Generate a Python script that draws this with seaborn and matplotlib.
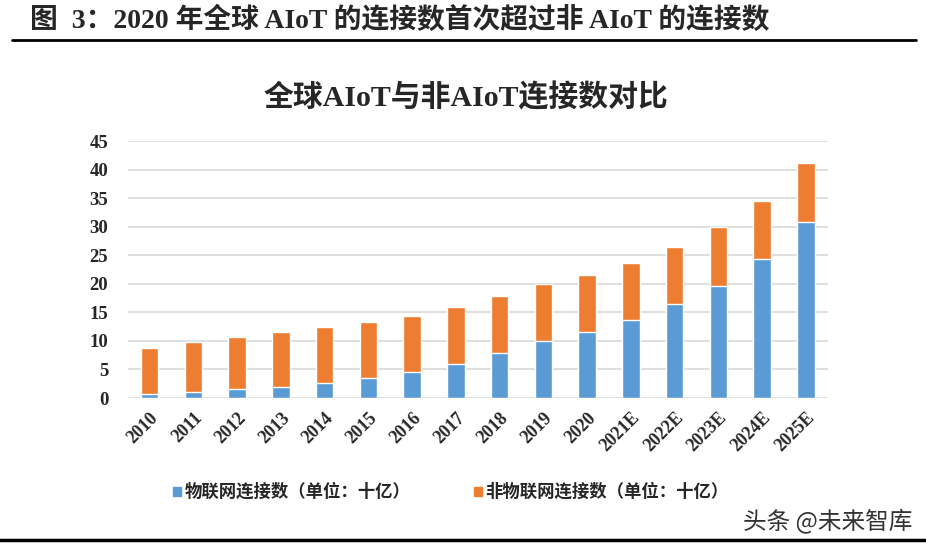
# 全球AIoT与非AIoT连接数对比 堆叠柱状图

import pandas as pd
import seaborn as sns
import matplotlib.pyplot as plt

years = ['2010', '2011', '2012', '2013', '2014', '2015', '2016', '2017',
         '2018', '2019', '2020', '2021E', '2022E', '2023E', '2024E', '2025E']
# 物联网连接数（十亿）
iot = [0.7, 1.0, 1.5, 2.0, 2.7, 3.5, 4.5, 6.0,
       7.9, 9.9, 11.6, 13.7, 16.4, 19.7, 24.4, 30.9]
# 连接数总计（十亿）
total = [8.7, 9.8, 10.7, 11.6, 12.5, 13.3, 14.3, 15.9,
         17.8, 20.0, 21.5, 23.7, 26.5, 30.0, 34.5, 41.2]
non_iot = [round(t - i, 1) for t, i in zip(total, iot)]

blue = '#5B9BD5'
orange = '#ED7D31'
serif = ['Liberation Serif', 'Noto Sans CJK SC']
cjk = ['Noto Sans CJK SC', 'DejaVu Sans']


def draw():
    sns.set_style('white')
    plt.rcParams['font.family'] = serif

    df = pd.DataFrame({'year': years, 'iot': iot, 'non_iot': non_iot})
    df['total'] = df['iot'] + df['non_iot']

    fig = plt.figure(figsize=(9.26, 5.49), dpi=100)
    ax = fig.add_axes([0.138, 0.275, 0.756, 0.468])

    # 先画总高度（橙色），再覆盖物联网部分（蓝色）
    sns.barplot(data=df, x='year', y='total', color=orange, width=0.4,
                saturation=1, ax=ax, zorder=3)
    sns.barplot(data=df, x='year', y='iot', color=blue, width=0.4,
                saturation=1, ax=ax, zorder=3)

    ax.set_ylim(0, 45)
    ax.set_xlim(-0.5, len(years) - 0.5)
    ax.set_yticks(range(0, 46, 5))
    ax.grid(axis='y', color='#d9d9d9', linewidth=1.2, zorder=0)
    ax.set_axisbelow(True)
    for s in ax.spines.values():
        s.set_visible(False)
    ax.set_xlabel('')
    ax.set_ylabel('')
    ax.tick_params(axis='both', length=0)
    ax.tick_params(axis='y', pad=14)
    for lab in ax.get_yticklabels():
        lab.set_fontweight('bold')
        lab.set_fontsize(13.5)
    ax.set_xticks(range(len(years)))
    ax.set_xticklabels(years, rotation=45, ha='right', rotation_mode='anchor',
                       fontweight='bold', fontsize=13)
    ax.tick_params(axis='x', pad=8)

    # 标题
    fig.text(0.503, 0.822, '全球AIoT与非AIoT连接数对比', ha='center', va='center',
             fontsize=21.5, fontweight='bold', family=serif)
    fig.text(0.032, 0.963, '图  3：2020 年全球 AIoT 的连接数首次超过非 AIoT 的连接数',
             ha='left', va='center', fontsize=20, fontweight='bold', family=serif)
    fig.add_artist(plt.Line2D([0.013, 0.989], [0.927, 0.927], color='black', linewidth=2))
    fig.add_artist(plt.Line2D([0.0, 1.0], [0.016, 0.016], color='black', linewidth=2.5))

    # 图例
    fig.patches.append(plt.Rectangle((0.187, 0.097), 0.0088, 0.0155, color=blue,
                                     transform=fig.transFigure, figure=fig))
    fig.text(0.199, 0.104, '物联网连接数（单位：十亿）', ha='left', va='center',
             fontsize=12.5, fontweight='bold', family=cjk)
    fig.patches.append(plt.Rectangle((0.512, 0.097), 0.0088, 0.0155, color=orange,
                                     transform=fig.transFigure, figure=fig))
    fig.text(0.524, 0.104, '非物联网连接数（单位：十亿）', ha='left', va='center',
             fontsize=12.5, fontweight='bold', family=cjk)

    # 水印
    fig.text(0.985, 0.052, '头条 @未来智库', ha='right', va='center',
             fontsize=17, fontweight='light', color='#333333', family=cjk)

    plt.savefig('out.png', dpi=100)


if __name__ == '__main__':
    draw()
